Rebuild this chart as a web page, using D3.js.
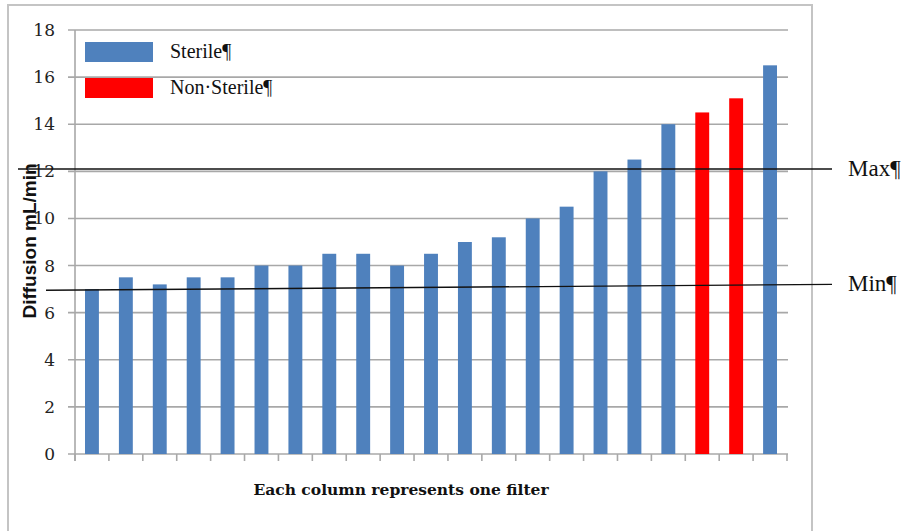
<!DOCTYPE html>
<html>
<head>
<meta charset="utf-8">
<script src="https://cdn.jsdelivr.net/npm/d3@7"></script>
<style>
  html, body { margin: 0; padding: 0; background: #fff; }
  svg { display: block; }
</style>
</head>
<body>
<svg id="chart" width="907" height="531"></svg>
<script>
// Diffusion rate per filter, one column per filter
const filters = d3.range(1, 22).map(String);
const diffusion = [7.0, 7.5, 7.2, 7.5, 7.5, 8.0, 8.0, 8.5, 8.5, 8.0, 8.5, 9.0, 9.2, 10.0, 10.5, 12.0, 12.5, 14.0, 14.5, 15.1, 16.5];
const status = ["Sterile", "Sterile", "Sterile", "Sterile", "Sterile", "Sterile", "Sterile",
  "Sterile", "Sterile", "Sterile", "Sterile", "Sterile", "Sterile", "Sterile", "Sterile",
  "Sterile", "Sterile", "Sterile", "Non\u00B7Sterile", "Non\u00B7Sterile", "Sterile"];
const legendLabels = ["Sterile\u00B6", "Non\u00B7Sterile\u00B6"];
const yTicks = [0, 2, 4, 6, 8, 10, 12, 14, 16, 18];
// Limit lines (start value, end value)
const maxLine = [12.1, 12.1];
const minLine = [6.95, 7.2];
const limitLabels = ["Max\u00B6", "Min\u00B6"];

const colors = { "Sterile": "#4F81BD", "Non\u00B7Sterile": "#FF0000" };
const gridColor = "#a8a8a8";

const svg = d3.select("#chart");

// Outer frame
svg.append("rect")
  .attr("x", 8).attr("y", 5)
  .attr("width", 804).attr("height", 540)
  .attr("fill", "none")
  .attr("stroke", "#c4c4c4")
  .attr("stroke-width", 2);

const plot = { left: 75, right: 787, top: 30, bottom: 454 };

const x = d3.scaleBand()
  .domain(filters)
  .range([plot.left, plot.right])
  .paddingInner(0.59)
  .paddingOuter(0.295);

const y = d3.scaleLinear()
  .domain([0, 18])
  .range([plot.bottom, plot.top]);

// Horizontal gridlines with left tick stubs
svg.append("g")
  .selectAll("line")
  .data(yTicks)
  .join("line")
  .attr("x1", plot.left - 7)
  .attr("x2", plot.right + 1)
  .attr("y1", d => y(d))
  .attr("y2", d => y(d))
  .attr("stroke", gridColor)
  .attr("stroke-width", 1.6);

// Y axis line
svg.append("line")
  .attr("x1", plot.left).attr("x2", plot.left)
  .attr("y1", y(18)).attr("y2", plot.bottom + 7)
  .attr("stroke", gridColor)
  .attr("stroke-width", 1.6);

// Y tick labels
svg.append("g")
  .selectAll("text")
  .data(yTicks)
  .join("text")
  .attr("x", 55)
  .attr("y", d => y(d) + 6)
  .attr("text-anchor", "end")
  .attr("font-family", "DejaVu Serif")
  .attr("font-size", 17)
  .attr("fill", "#222")
  .text(d => d);

// Bottom category ticks at band boundaries
const step = x.step();
const bandEdges = d3.range(filters.length + 1).map(i => plot.left + i * step);
svg.append("g")
  .selectAll("line")
  .data(bandEdges)
  .join("line")
  .attr("x1", d => d).attr("x2", d => d)
  .attr("y1", plot.bottom).attr("y2", plot.bottom + 7)
  .attr("stroke", gridColor)
  .attr("stroke-width", 1.6);

// Bars
svg.append("g")
  .selectAll("rect")
  .data(diffusion)
  .join("rect")
  .attr("x", (d, i) => x(filters[i]))
  .attr("y", d => y(d))
  .attr("width", x.bandwidth())
  .attr("height", d => y(0) - y(d))
  .attr("fill", (d, i) => colors[status[i]]);

// Legend
const legend = svg.append("g");
legendLabels.forEach((lab, i) => {
  const key = i === 0 ? "Sterile" : "Non\u00B7Sterile";
  legend.append("rect")
    .attr("x", 85).attr("y", 42 + i * 36)
    .attr("width", 68).attr("height", 20)
    .attr("fill", colors[key]);
  legend.append("text")
    .attr("x", 170).attr("y", 58 + i * 36)
    .attr("font-family", "'Liberation Serif', 'DejaVu Serif', serif")
    .attr("font-size", 20)
    .attr("fill", "#111")
    .text(lab);
});

// Axis titles
svg.append("text")
  .attr("x", 401).attr("y", 495)
  .attr("text-anchor", "middle")
  .attr("font-family", "DejaVu Serif")
  .attr("font-weight", "bold")
  .attr("font-size", 15.5)
  .attr("fill", "#111")
  .text("Each column represents one filter");

svg.append("text")
  .attr("transform", "translate(36,241) rotate(-90)")
  .attr("text-anchor", "middle")
  .attr("font-family", "Liberation Sans")
  .attr("font-weight", "bold")
  .attr("font-size", 19)
  .attr("fill", "#111")
  .text("Diffusion mL/min");

// Max / Min limit lines
const limits = [
  { vals: maxLine, x1: 18, label: limitLabels[0] },
  { vals: minLine, x1: 46, label: limitLabels[1] }
];
const lineEnd = 832;
limits.forEach(l => {
  svg.append("line")
    .attr("x1", l.x1).attr("x2", lineEnd)
    .attr("y1", y(l.vals[0])).attr("y2", y(l.vals[1]))
    .attr("stroke", "#111")
    .attr("stroke-width", 1.4);
  svg.append("text")
    .attr("x", 848)
    .attr("y", y(l.vals[1]) + 7)
    .attr("font-family", "'Liberation Serif', 'DejaVu Serif', serif")
    .attr("font-size", 23)
    .attr("fill", "#111")
    .text(l.label);
});
</script>
</body>
</html>
